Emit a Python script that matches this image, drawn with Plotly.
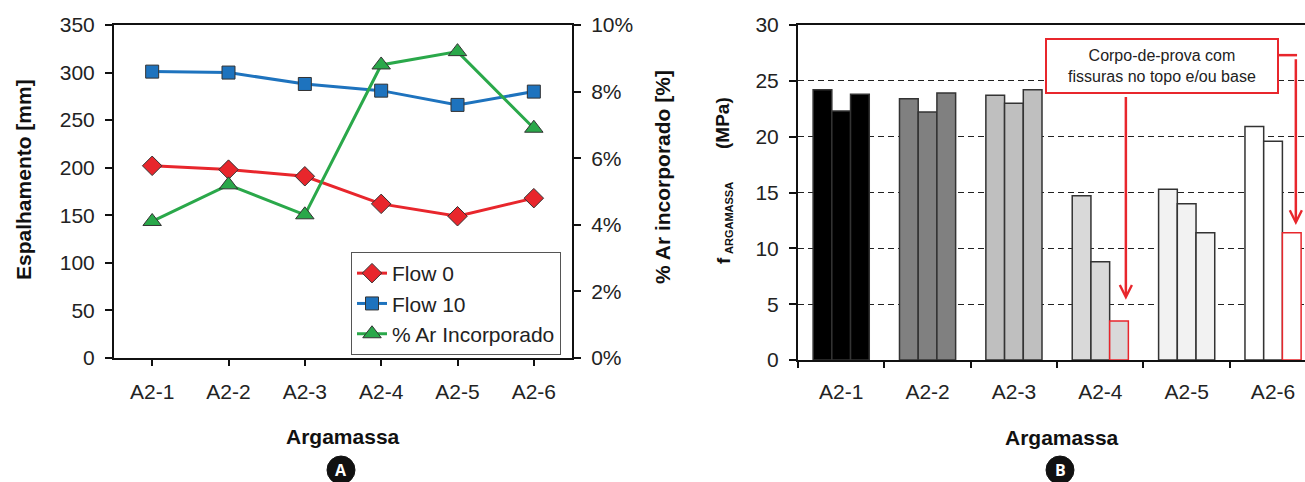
import plotly.graph_objects as go

# ---------------- data ----------------
categories = ['A2-1', 'A2-2', 'A2-3', 'A2-4', 'A2-5', 'A2-6']

# Chart A
flow0 = [202, 198, 191, 162, 149, 168]          # Espalhamento [mm]
flow10 = [301, 300, 288, 281, 266, 280]         # Espalhamento [mm]
ar_incorporado = [4.1, 5.2, 4.3, 8.8, 9.2, 6.9]  # % Ar incorporado

# Chart B (three specimens per mortar)
cp1 = [24.2, 23.4, 23.7, 14.7, 15.3, 20.9]
cp2 = [22.3, 22.2, 23.0, 8.8, 14.0, 19.6]
cp3 = [23.8, 23.9, 24.2, 3.5, 11.4, 11.4]

left_ticks = [0, 50, 100, 150, 200, 250, 300, 350]
right_ticks = [0, 2, 4, 6, 8, 10]
right_ticktext = [f'{v}%' for v in right_ticks]
b_ticks = [0, 5, 10, 15, 20, 25, 30]

# ---------------- style ----------------
W, H = 1305, 482
FONT = 'Liberation Sans, Arial, sans-serif'
RED = '#e8262c'
BLUE = '#1e73be'
GREEN = '#2aa84a'
EDGE = '#333333'
group_fill = ['#000000', '#808080', '#bfbfbf', '#d9d9d9', '#f2f2f2', '#ffffff']
cp3_edge = [EDGE, EDGE, EDGE, RED, EDGE, RED]


def px(x):
    return x / W


def py(y):
    return 1 - y / H


fig = go.Figure()

# Chart A traces
fig.add_trace(go.Scatter(
    x=categories, y=flow0, name='Flow 0', mode='lines+markers',
    line=dict(color=RED, width=3),
    marker=dict(symbol='diamond', size=15, color=RED, line=dict(color=EDGE, width=1)),
    xaxis='x', yaxis='y'))
fig.add_trace(go.Scatter(
    x=categories, y=flow10, name='Flow 10', mode='lines+markers',
    line=dict(color=BLUE, width=3),
    marker=dict(symbol='square', size=13, color=BLUE, line=dict(color=EDGE, width=1)),
    xaxis='x', yaxis='y'))
fig.add_trace(go.Scatter(
    x=categories, y=ar_incorporado, name='% Ar Incorporado', mode='lines+markers',
    line=dict(color=GREEN, width=3),
    marker=dict(symbol='triangle-up', size=16, color=GREEN, line=dict(color=EDGE, width=1)),
    xaxis='x', yaxis='y2'))

# Chart B traces
for vals, edges in ((cp1, [EDGE] * 6), (cp2, [EDGE] * 6), (cp3, cp3_edge)):
    fig.add_trace(go.Bar(
        x=categories, y=vals, showlegend=False,
        marker=dict(color=group_fill, line=dict(color=edges, width=1.5)),
        xaxis='x3', yaxis='y3'))

tickfont = dict(family=FONT, size=21, color='#222')

fig.update_layout(
    width=W, height=H, autosize=False,
    margin=dict(l=0, r=0, t=0, b=0),
    paper_bgcolor='white', plot_bgcolor='white',
    font=dict(family=FONT, color='#222'),
    barmode='group', bargap=0.35, bargroupgap=0,
    showlegend=True,
    legend=dict(x=px(351), y=py(252), xanchor='left', yanchor='top',
                bgcolor='white', bordercolor='#555', borderwidth=1,
                font=dict(family=FONT, size=21, color='#222'),
                tracegroupgap=0, itemwidth=30),
    xaxis=dict(domain=[px(114), px(572)], type='category', range=[-0.5, 5.5],
               showline=True, linecolor='#111', linewidth=2, mirror=True,
               ticks='outside', ticklen=6, tickwidth=2, tickcolor='#111',
               ticklabelstandoff=8, tickfont=tickfont,
               showgrid=False, zeroline=False, anchor='y', automargin=False),
    yaxis=dict(domain=[py(358), py(25)], range=[0, 350], tickvals=left_ticks,
               showline=True, linecolor='#111', linewidth=2,
               ticks='outside', ticklen=7, tickwidth=2, tickcolor='#111',
               ticklabelstandoff=6, tickfont=tickfont,
               showgrid=False, zeroline=False, anchor='x', automargin=False),
    yaxis2=dict(domain=[py(358), py(25)], range=[0, 10], tickvals=right_ticks,
                ticktext=right_ticktext, tickmode='array',
                overlaying='y', side='right', anchor='x',
                showline=True, linecolor='#111', linewidth=2,
                ticks='outside', ticklen=7, tickwidth=2, tickcolor='#111',
                ticklabelstandoff=6, tickfont=tickfont,
                showgrid=False, zeroline=False, automargin=False),
    xaxis3=dict(domain=[px(798), 1.0], type='category', range=[-0.5, 5.37],
                showline=True, linecolor='#111', linewidth=2, mirror=True,
                ticks='outside', ticklen=6, tickwidth=2, tickcolor='#111',
                tickson='boundaries', ticklabelstandoff=12, tickfont=tickfont,
                showgrid=False, zeroline=False, anchor='y3', automargin=False),
    yaxis3=dict(domain=[py(360), py(25)], range=[0, 30], tickvals=b_ticks,
                showline=True, linecolor='#111', linewidth=2,
                ticks='outside', ticklen=7, tickwidth=2, tickcolor='#111',
                ticklabelstandoff=6, tickfont=tickfont,
                showgrid=True, gridcolor='#222', gridwidth=1.3, griddash='6px,4px',
                zeroline=False, anchor='x3', automargin=False),
)

title_font = dict(family=FONT, size=21, color='#111')


def paper_text(text, x, y, font, angle=0):
    return dict(text=text, x=px(x), y=py(y), xref='paper', yref='paper',
                xanchor='center', yanchor='middle', textangle=angle,
                showarrow=False, font=font)


letter_font = dict(family='Open Sans, ' + FONT, size=16, color='white')
annotations = [
    paper_text('<b>Espalhamento [mm]</b>', 23, 180, title_font, -90),
    paper_text('<b>% Ar incorporado [%]</b>', 662, 177, title_font, -90),
    # f_ARGAMASSA (MPa) built from three pieces (subscript lowered)
    paper_text('<b>f</b>', 723, 261, dict(family=FONT, size=19, color='#111'), -90),
    paper_text('<b>ARGAMASSA</b>', 729, 218, dict(family=FONT, size=11, color='#111'), -90),
    paper_text('<b>(MPa)</b>', 723, 123, dict(family=FONT, size=19, color='#111'), -90),
    paper_text('<b>Argamassa</b>', 343, 436, title_font),
    paper_text('<b>Argamassa</b>', 1062, 437, title_font),
    # circled panel letters
    paper_text('<b>A</b>', 341, 470, letter_font),
    paper_text('<b>B</b>', 1060, 470, letter_font),
    # note box
    dict(text='Corpo-de-prova com<br>fissuras no topo e/ou base',
         x=3.72, y=26.3, xref='x3', yref='y3', showarrow=False,
         xanchor='center', yanchor='middle',
         font=dict(family=FONT, size=16, color='#222'),
         bgcolor='white', bordercolor=RED, borderwidth=2, borderpad=2,
         width=226, height=48, align='center'),
    # arrow to A2-4 third specimen
    dict(text=' ', x=3.296, y=5.4, ax=3.296, ay=23.9,
         xref='x3', yref='y3', axref='x3', ayref='y3',
         showarrow=True, arrowhead=5, arrowsize=0.95, arrowwidth=2.5,
         arrowcolor=RED, standoff=0, startstandoff=0, font=dict(size=4)),
    # arrow to A2-6 third specimen
    dict(text=' ', x=5.264, y=12.1, ax=5.264, ay=27.3,
         xref='x3', yref='y3', axref='x3', ayref='y3',
         showarrow=True, arrowhead=5, arrowsize=0.95, arrowwidth=2.5,
         arrowcolor=RED, standoff=0, startstandoff=0, font=dict(size=4)),
]

shapes = [
    dict(type='line', xref='x3', yref='y3', x0=5.067, x1=5.278, y0=27.3, y1=27.3,
         line=dict(color=RED, width=2.5)),
    dict(type='circle', xref='paper', yref='paper',
         x0=px(327), x1=px(355), y0=py(484), y1=py(456),
         fillcolor='#111', line=dict(color='#111', width=1), layer='above'),
    dict(type='circle', xref='paper', yref='paper',
         x0=px(1046), x1=px(1074), y0=py(484), y1=py(456),
         fillcolor='#111', line=dict(color='#111', width=1), layer='above'),
]

fig.update_layout(annotations=annotations, shapes=shapes)

fig.write_html(
    'out.html',
    config={'displayModeBar': False},
    post_script="document.body.style.margin='0';document.body.style.overflow='hidden';",
)
